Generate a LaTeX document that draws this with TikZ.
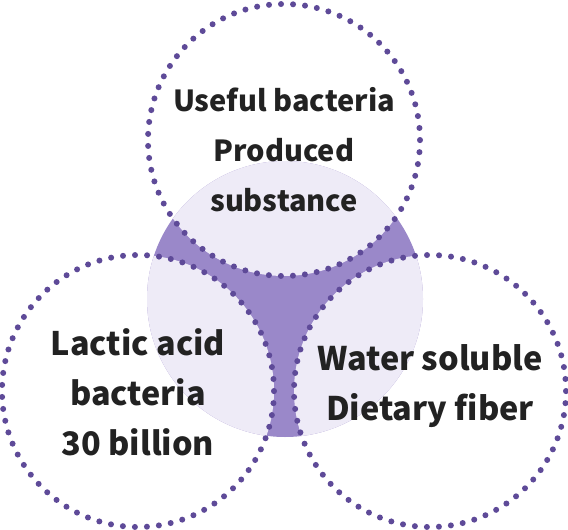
\documentclass[tikz,border=0pt]{standalone}
\usepackage{fontspec}
\setmainfont{Noto Sans CJK JP}
\usetikzlibrary{positioning}

\definecolor{dotpurple}{HTML}{5E4A98}
\definecolor{midpurple}{HTML}{9A88C9}
\definecolor{palelilac}{HTML}{EEEBF7}
\definecolor{inkgrey}{HTML}{222222}

\tikzset{
  ring/.style={circle,minimum size=272pt,inner sep=0pt,draw=dotpurple,
    line width=6pt,line cap=round,dash pattern=on 0pt off 12.035pt},
  ringtext/.style={align=center,text=inkgrey,inner sep=0pt,
    font=\bfseries\fontsize{#1}{50}\selectfont}
}

\begin{document}
\begin{tikzpicture}[x=1pt,y=-1pt]
\useasboundingbox (0,0) rectangle (568,530);

% pale disc and the purple part between the rings
\fill[midpurple] (285,299) circle (138);
\begin{scope}
\clip (285,299) circle (138);
\fill[palelilac] (284,140) circle (136) (138,391) circle (136) (430,391) circle (136);
\end{scope}

\node[ring] (useful) at (284,140) {};
\node[ring] (lactic) at (138,391) {};
\node[ring] (fiber) at (430,391) {};

\node[ringtext=29] (usefultxt) at (284,150) {Useful bacteria\\Produced\\substance};
\node[ringtext=32.4] (lactictxt) at (138,392) {Lactic acid\\bacteria\\30 billion};
\node[ringtext=32.5] (fibertxt) at (430,386) {Water soluble\\Dietary fiber};
\end{tikzpicture}
\end{document}
